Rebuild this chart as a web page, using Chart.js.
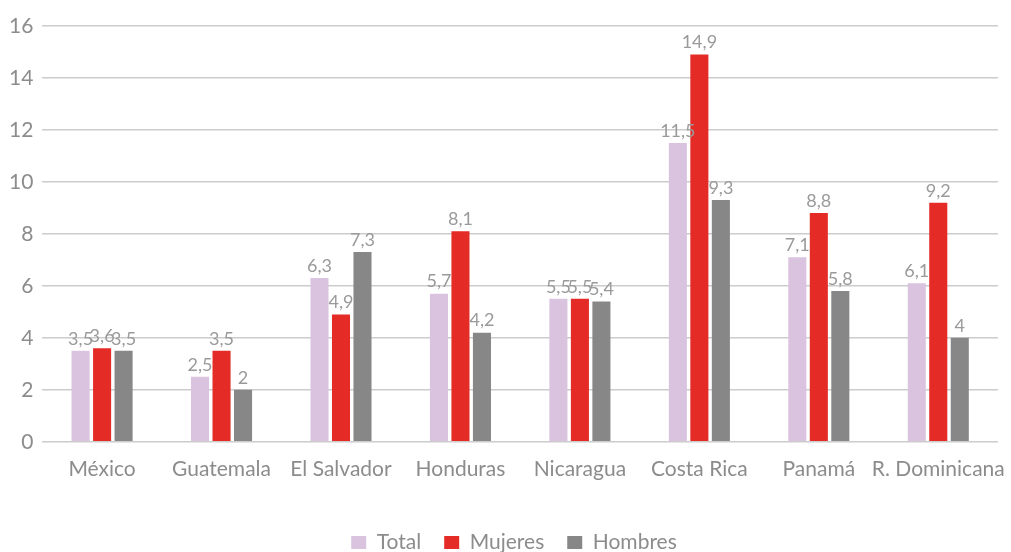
<!DOCTYPE html>
<html>
<head>
<meta charset="utf-8">
<script src="https://cdn.jsdelivr.net/npm/chart.js@4.4.1/dist/chart.umd.min.js"></script>
<style>
    html, body { margin: 0; padding: 0; background: #fff; }
    #wrap { width: 1011px; height: 552px; }
</style>
</head>
<body>
<div id="wrap"><canvas id="chart" width="1011" height="552"></canvas></div>
<script>
const paises = ['México', 'Guatemala', 'El Salvador', 'Honduras', 'Nicaragua', 'Costa Rica', 'Panamá', 'R. Dominicana'];
const total = [3.5, 2.5, 6.3, 5.7, 5.5, 11.5, 7.1, 6.1];
const mujeres = [3.6, 3.5, 4.9, 8.1, 5.5, 14.9, 8.8, 9.2];
const hombres = [3.5, 2, 7.3, 4.2, 5.4, 9.3, 5.8, 4];

const FONT = 'Lato, "Open Sans", sans-serif';
const GRIS = '#8c8c8c';

// Draw the value above each bar (comma decimal)
const etiquetas = {
    id: 'etiquetas',
    afterDatasetsDraw(chart) {
        const ctx = chart.ctx;
        ctx.save();
        ctx.font = '18px ' + FONT;
        ctx.fillStyle = '#9a9a9a';
        ctx.textAlign = 'center';
        ctx.textBaseline = 'bottom';
        chart.data.datasets.forEach((ds, i) => {
            chart.getDatasetMeta(i).data.forEach((bar, j) => {
                const txt = String(ds.data[j]).replace('.', ',');
                ctx.fillText(txt, bar.x, bar.y - 3);
            });
        });
        ctx.restore();
    }
};

// legend sits a bit right of centre in the original
const correrLeyenda = {
    id: 'correrLeyenda',
    afterLayout(chart) {
        chart.legend.left += 30;
    }
};

const ctx = document.getElementById('chart').getContext('2d');
const chart = new Chart(ctx, {
    type: 'bar',
    data: {
        labels: paises,
        datasets: [
            { label: 'Total', data: total, backgroundColor: '#d9c3df' },
            { label: 'Mujeres', data: mujeres, backgroundColor: '#e42b26' },
            { label: 'Hombres', data: hombres, backgroundColor: '#878787' }
        ]
    },
    options: {
        responsive: false,
        animation: false,
        layout: { padding: { top: 26, right: 13, left: 0, bottom: 0 } },
        datasets: {
            bar: { categoryPercentage: 0.54, barPercentage: 0.84 }
        },
        scales: {
            x: {
                grid: { display: false },
                border: { display: false },
                ticks: { color: GRIS, font: { family: FONT, size: 21 }, padding: 7, maxRotation: 0, autoSkip: false },
                afterFit(scale) {
                    scale.height += 20;
                    // let the last label run into the right margin like the original
                    scale.paddingRight = 0;
                }
            },
            y: {
                min: 0,
                max: 16,
                ticks: { stepSize: 2, color: GRIS, font: { family: FONT, size: 21 }, padding: 9 },
                grid: { color: '#cccccc', lineWidth: 1.5, drawTicks: false },
                border: { display: false }
            }
        },
        plugins: {
            legend: {
                position: 'bottom',
                maxHeight: 43,
                labels: {
                    color: GRIS,
                    font: { family: FONT, size: 21 },
                    boxWidth: 15,
                    boxHeight: 13,
                    padding: 23
                }
            },
            tooltip: { enabled: false }
        }
    },
    plugins: [etiquetas, correrLeyenda]
});
</script>
</body>
</html>
